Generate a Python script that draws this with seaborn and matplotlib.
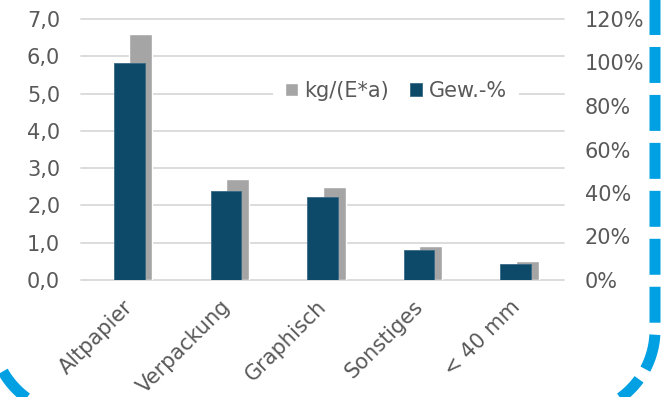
import numpy as np
import pandas as pd
import matplotlib
matplotlib.use("Agg")
import matplotlib.pyplot as plt
import seaborn as sns
from matplotlib.transforms import ScaledTranslation
from matplotlib.ticker import FixedLocator, FuncFormatter

# Paper fractions: specific amount and weight share
categories = ["Altpapier", "Verpackung", "Graphisch", "Sonstiges", "< 40 mm"]
kg_per_inhabitant = [6.6, 2.7, 2.5, 0.9, 0.5]      # kg/(E*a), left axis
weight_share = [100, 41, 38, 14, 7.5]             # Gew.-%, right axis
left_ticks = [0, 1, 2, 3, 4, 5, 6, 7]
right_ticks = [0, 20, 40, 60, 80, 100, 120]

GRAY = "#A5A5A5"
BLUE = "#0D4A69"
TEXT = "#595959"
GRID = "#D9D9D9"
RING = "#00A0E3"

sns.set_theme(style="white")
plt.rcParams["font.family"] = ["DejaVu Sans"]

W, H = 671, 397
fig = plt.figure(figsize=(W / 100, H / 100), dpi=100)
ax = fig.add_axes([81 / W, 1 - 280 / H, 483 / W, 261 / H])
ax2 = ax.twinx()

df = pd.DataFrame({"Fraktion": categories,
                   "kg": kg_per_inhabitant,
                   "anteil": weight_share})

# gray bars (primary axis), shifted a little to the right of the category
sns.barplot(data=df, x="Fraktion", y="kg", ax=ax, color=GRAY,
            saturation=1, width=0.24, label="kg/(E*a)", zorder=2)
for p in ax.patches:
    p.set_x(p.get_x() + 0.12)

# dark blue bars (secondary axis), centred on the category
sns.barplot(data=df, x="Fraktion", y="anteil", ax=ax2, color=BLUE,
            saturation=1, width=0.315, label="Gew.-%",
            edgecolor="#3A6A86", linewidth=0.6, zorder=2)

for a in (ax, ax2):
    if a.get_legend() is not None:
        a.get_legend().remove()
    a.set_xlabel("")
    a.set_ylabel("")
    for s in a.spines.values():
        s.set_visible(False)

ax.set_xlim(-0.5, len(categories) - 0.5)
ax.set_ylim(0, 7)
ax2.set_ylim(0, 120)

ax.yaxis.set_major_locator(FixedLocator(left_ticks))
ax.yaxis.set_major_formatter(FuncFormatter(lambda v, _: f"{v:.1f}".replace(".", ",")))
ax2.yaxis.set_major_locator(FixedLocator(right_ticks))
ax2.yaxis.set_major_formatter(FuncFormatter(lambda v, _: f"{int(v)}%"))

ax.set_axisbelow(True)
ax.yaxis.grid(True, color=GRID, linewidth=1.3)
ax.xaxis.grid(False)
for gl in ax.get_ygridlines():
    gl.set_clip_on(False)

ax.tick_params(axis="y", length=0, pad=15, labelsize=15, labelcolor=TEXT)
ax2.tick_params(axis="y", length=0, pad=15, labelsize=15, labelcolor=TEXT)
ax.tick_params(axis="x", length=0, pad=17, labelsize=15, labelcolor=TEXT)

ax.set_xticks(range(len(categories)))
ax.set_xticklabels(categories, rotation=45, ha="right", va="center",
                   rotation_mode="anchor")
shift = ScaledTranslation(1 / 100, 0, fig.dpi_scale_trans)
for lbl in ax.get_xticklabels():
    lbl.set_transform(lbl.get_transform() + shift)

h1, l1 = ax.get_legend_handles_labels()
h2, l2 = ax2.get_legend_handles_labels()
leg = ax2.legend(h1 + h2, l1 + l2, loc="center", bbox_to_anchor=(0.652, 0.724),
                 ncol=2, frameon=True, fancybox=False, facecolor="white",
                 edgecolor="none", framealpha=1, fontsize=15,
                 handlelength=0.6, handleheight=0.6, handletextpad=0.3,
                 columnspacing=1.0, borderpad=0.6, borderaxespad=0,
                 labelcolor=TEXT)

# decorative dashed frame with rounded corners around the chart
over = fig.add_axes([0, 0, 1, 1], zorder=5)
over.set_xlim(0, W)
over.set_ylim(H, 0)
over.axis("off")
over.patch.set_visible(False)

xr, xl, r, yc = 655, -8, 84, 330
t1 = np.linspace(0, np.pi / 2, 60)
t2 = np.linspace(np.pi / 2, np.pi, 60)
xs = np.concatenate([[xr], xr - r + r * np.cos(t1), xl + r + r * np.cos(t2), [xl]])
ys = np.concatenate([[-40.8], yc + r * np.sin(t1), yc + r * np.sin(t2), [-50]])
over.plot(xs, ys, color=RING, linewidth=7.92, dashes=(3.27, 1.09),
          solid_capstyle="butt", dash_capstyle="butt", clip_on=True)

fig.savefig("out.png", dpi=100)
